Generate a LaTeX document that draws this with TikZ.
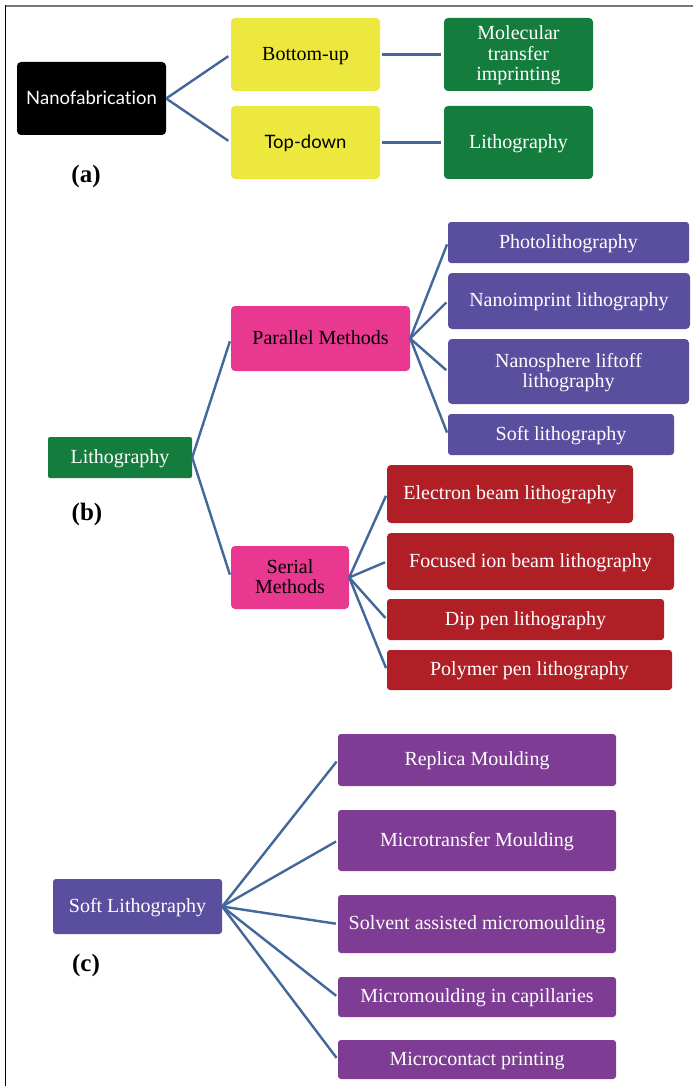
\documentclass[tikz,border=0pt]{standalone}
\usepackage{fontspec}
\setmainfont{Liberation Serif}
\newfontfamily\latofont[Ligatures={NoCommon}]{Lato}
\definecolor{cyellow}{HTML}{EDE83E}
\definecolor{cgreen}{HTML}{147D3E}
\definecolor{cpink}{HTML}{E9388F}
\definecolor{cblue}{HTML}{5A4F9F}
\definecolor{cred}{HTML}{B11F26}
\definecolor{cpurple}{HTML}{7E3C94}
\definecolor{cline}{HTML}{41679B}
\definecolor{cframe}{HTML}{777777}
\tikzset{
  box/.style={rectangle, rounded corners=4pt, inner sep=0pt, align=center,
    font=\fontsize{20}{20.5}\selectfont, text depth=2pt},
  ybox/.style={box, fill=cyellow, text=black},
  gbox/.style={box, fill=cgreen, text=white},
  kbox/.style={box, fill=black, text=white},
  pbox/.style={box, fill=cpink, text=black},
  bbox/.style={box, fill=cblue, text=white},
  rbox/.style={box, fill=cred, text=white},
  vbox/.style={box, fill=cpurple, text=white},
  conn/.style={draw=cline, line width=2.4pt},
  lbl/.style={font=\fontsize{25}{25}\selectfont\bfseries, inner sep=0pt}
}
\begin{document}
\begin{tikzpicture}[x=1pt,y=-1pt]
\fill[white] (0,0) rectangle (693,1086);
\useasboundingbox (0,0) rectangle (693,1086);
\draw[cframe, line width=2pt] (5,6) -- (693,6);
\draw[black, line width=1.6pt] (5.5,5) -- (5.5,1086);

% (a)
\node[kbox, minimum width=149pt, minimum height=73pt, font=\latofont\fontsize{18.5}{20}\selectfont] (nano) at (91.5,98.5) {Nanofabricat\kern0pt ion};
\node[ybox, minimum width=149pt, minimum height=73pt] (bu) at (305.5,54.5) {Bottom-up};
\node[ybox, minimum width=149pt, minimum height=73pt, font=\latofont\fontsize{18.5}{20}\selectfont] (td) at (305.5,142.5) {Top-down};
\node[gbox, minimum width=149pt, minimum height=73pt] (mti) at (518.5,54.5) {Molecular\\transfer\\imprinting};
\node[gbox, minimum width=149pt, minimum height=73pt] (litha) at (518.5,142.5) {Lithography};
\node[lbl] (la) at (86,176) {(a)};
\draw[conn, shorten >=3pt] (nano.east) -- (bu.west);
\draw[conn, shorten >=3pt] (nano.east) -- (td.west);
\draw[conn, shorten <=2pt, shorten >=3pt] (bu.east) -- (mti.west);
\draw[conn, shorten <=2pt, shorten >=3pt] (td.east) -- (litha.west);

% (b)
\node[gbox, minimum width=144pt, minimum height=41pt, rounded corners=2pt] (lithb) at (120,457.5) {Lithography};
\node[pbox, minimum width=179pt, minimum height=65pt] (par) at (320.5,338.5) {Parallel Methods};
\node[pbox, minimum width=118pt, minimum height=63pt] (ser) at (290,577.5) {Serial\\Methods};
\node[bbox, minimum width=241pt, minimum height=41pt, rounded corners=3pt] (photo) at (568.5,242.5) {Photolithography};
\node[bbox, minimum width=242pt, minimum height=56pt] (nil) at (569,301) {Nanoimprint lithography};
\node[bbox, minimum width=241pt, minimum height=65pt] (nsl) at (568.5,371.5) {Nanosphere liftoff\\lithography};
\node[bbox, minimum width=226pt, minimum height=41pt, rounded corners=3pt] (soft) at (561,434.5) {Soft lithography};
\node[rbox, minimum width=246pt, minimum height=58pt] (ebl) at (510,494) {Electron beam lithography};
\node[rbox, minimum width=287pt, minimum height=57pt] (fib) at (530.5,561.5) {Focused ion beam lithography};
\node[rbox, minimum width=277pt, minimum height=41pt, rounded corners=3pt] (dpl) at (525.5,619.5) {Dip pen lithography};
\node[rbox, minimum width=285pt, minimum height=40pt, rounded corners=3pt] (ppl) at (529.5,670) {Polymer pen lithography};
\node[lbl] (lb) at (87,514) {(b)};
\draw[conn, shorten >=3pt] (lithb.east) -- (par.west);
\draw[conn, shorten >=3pt] (lithb.east) -- (ser.west);
\foreach \t in {photo,nil,nsl,soft}
  \draw[conn, shorten >=2pt] (par.east) -- (\t.west);
\foreach \t in {ebl,fib,dpl,ppl}
  \draw[conn, shorten >=2pt] (ser.east) -- (\t.west);

% (c)
\node[bbox, minimum width=169pt, minimum height=55pt, rounded corners=3pt] (softc) at (137.5,906.5) {Soft Lithography};
\node[vbox, minimum width=278pt, minimum height=52pt, rounded corners=3pt] (rm) at (477,760) {Replica Moulding};
\node[vbox, minimum width=278pt, minimum height=61pt, rounded corners=3pt] (mtm) at (477,840.5) {Microtransfer Moulding};
\node[vbox, minimum width=278pt, minimum height=58pt, rounded corners=3pt] (sam) at (477,924) {Solvent assisted micromoulding};
\node[vbox, minimum width=278pt, minimum height=40pt, rounded corners=3pt] (mic) at (477,997) {Micromoulding in capillaries};
\node[vbox, minimum width=278pt, minimum height=39pt, rounded corners=3pt] (mcp) at (477,1059.5) {Microcontact printing};
\node[lbl] (lc) at (86,965) {(c)};
\foreach \t in {rm,mtm,sam,mic,mcp}
  \draw[conn, shorten >=2pt] (softc.east) -- (\t.west);
\end{tikzpicture}
\end{document}
